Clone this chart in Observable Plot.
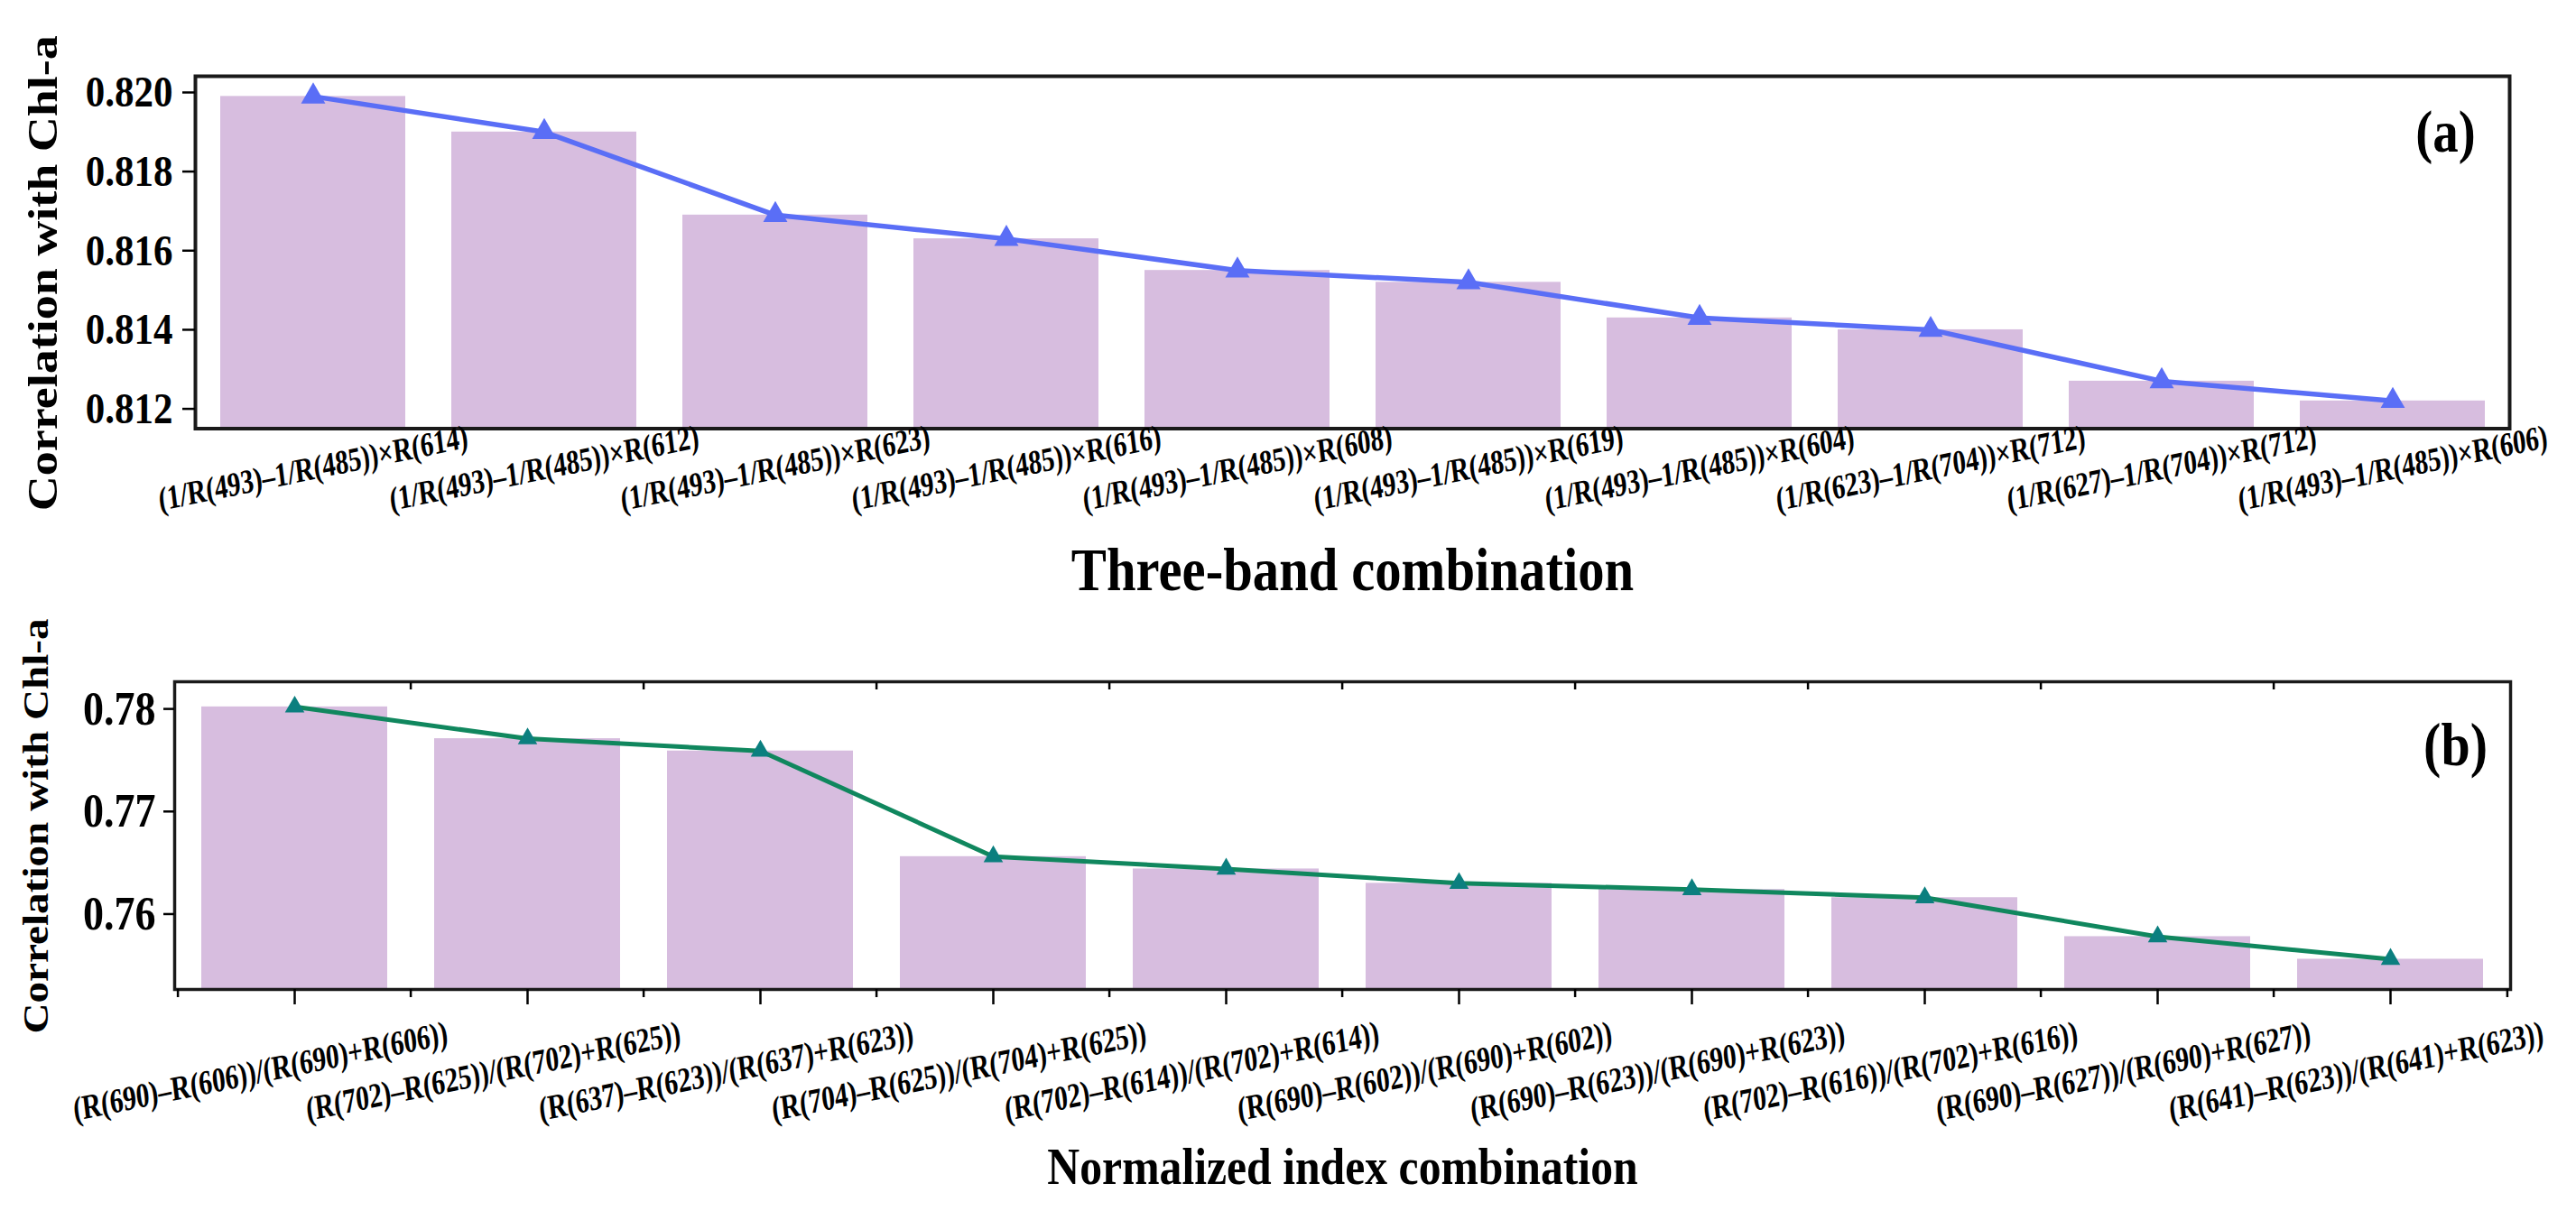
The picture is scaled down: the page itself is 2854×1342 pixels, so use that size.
<!DOCTYPE html>
<html><head><meta charset="utf-8">
<script src="https://cdn.jsdelivr.net/npm/d3@7"></script>
<script src="https://cdn.jsdelivr.net/npm/@observablehq/plot@0.6"></script>
<style>
html,body{margin:0;padding:0;background:#fff;}
#chart svg{display:block;}
</style></head><body><div id="chart"></div>
<script>
const threeBandCombos = [
  "(1/R(493)–1/R(485))×R(614)",
  "(1/R(493)–1/R(485))×R(612)",
  "(1/R(493)–1/R(485))×R(623)",
  "(1/R(493)–1/R(485))×R(616)",
  "(1/R(493)–1/R(485))×R(608)",
  "(1/R(493)–1/R(485))×R(619)",
  "(1/R(493)–1/R(485))×R(604)",
  "(1/R(623)–1/R(704))×R(712)",
  "(1/R(627)–1/R(704))×R(712)",
  "(1/R(493)–1/R(485))×R(606)"
];
const threeBandCorr = [0.8199, 0.8190, 0.8169, 0.8163, 0.8155, 0.8152, 0.8143, 0.8140, 0.8127, 0.8122];
const normIndexCombos = [
  "(R(690)–R(606))/(R(690)+R(606))",
  "(R(702)–R(625))/(R(702)+R(625))",
  "(R(637)–R(623))/(R(637)+R(623))",
  "(R(704)–R(625))/(R(704)+R(625))",
  "(R(702)–R(614))/(R(702)+R(614))",
  "(R(690)–R(602))/(R(690)+R(602))",
  "(R(690)–R(623))/(R(690)+R(623))",
  "(R(702)–R(616))/(R(702)+R(616))",
  "(R(690)–R(627))/(R(690)+R(627))",
  "(R(641)–R(623))/(R(641)+R(623))"
];
const normIndexCorr = [0.7802, 0.7771, 0.7759, 0.7656, 0.7644, 0.7630, 0.7624, 0.7616, 0.7578, 0.7556];
const threeBandTicks = [0.812, 0.814, 0.816, 0.818, 0.820];
const normIndexTicks = [0.76, 0.77, 0.78];
const panelLabels = ["(a)", "(b)"];
const yTitle = "Correlation with Chl-a";
const xTitles = ["Three-band combination", "Normalized index combination"];

const W = 2854;
const FONT = "'Liberation Serif', 'Times New Roman', serif";
const STYLE = `font-family: ${FONT}; font-weight: bold; color: black; background: white; overflow: visible;`;
const barColor = "#d7bddf";

function stretchText(t, s) {
  const tr = t.getAttribute("transform") || "";
  const m = tr.match(/translate\(\s*([-\d.e+]+)[\s,]+([-\d.e+]+)\s*\)/);
  if (m) {
    const rest = tr.replace(m[0], "");
    t.setAttribute("transform", `translate(${m[1]},${m[2]}) scale(1,${s})${rest}`);
  }
}
function stretch(svg, s, sTick) {
  svg.querySelectorAll("text").forEach(t => {
    const g = t.closest('g[aria-label="x-axis tick label"]');
    stretchText(t, g ? sTick : s);
  });
}
function setTickFont(svg, px) {
  svg.querySelectorAll('g[aria-label="x-axis tick label"]').forEach(g => {
    if (g.textContent.trim().length) {
      g.setAttribute("font-size", px);
      g.querySelectorAll("text").forEach(t => t.setAttribute("font-size", px));
    }
  });
}

const blank = () => "";

// Panel (a)
const dataA = threeBandCombos.map((name, i) => ({name, value: threeBandCorr[i]}));
const domA = [0.8115, 0.82041];
const plotA = Plot.plot({
  width: W, height: 700,
  marginLeft: 216, marginRight: 74, marginTop: 84, marginBottom: 225.5,
  style: STYLE,
  x: {type: "band", domain: threeBandCombos, paddingInner: 0.2, paddingOuter: 0.1, label: null},
  y: {domain: domA, label: null},
  marks: [
    Plot.barY(dataA, {x: "name", y1: domA[0], y2: "value", fill: barColor}),
    Plot.line(dataA, {x: "name", y: "value", stroke: "#5a6ef6", strokeWidth: 5.5}),
    Plot.dot(dataA, {x: "name", y: "value", symbol: "triangle", r: 10, fill: "#5a6ef6"}),
    Plot.frame({stroke: "#1a1a1a", strokeWidth: 4}),
    Plot.axisY({ticks: threeBandTicks, tickFormat: d3.format(".3f"), tickSize: 14, tickPadding: 11, fontSize: 43, strokeWidth: 2.5, label: null}),
    Plot.axisX({tickSize: 0, tickPadding: 44, tickRotate: -9, textAnchor: "middle", lineAnchor: "middle", fontSize: 29, label: null}),
    Plot.text([yTitle], {frameAnchor: "left", dx: -169, dy: 23, rotate: -90, fontSize: 47, textAnchor: "middle", lineAnchor: "middle"}),
    Plot.text([xTitles[0]], {frameAnchor: "bottom", dy: 157.5, fontSize: 58.7, lineAnchor: "middle"}),
    Plot.text([panelLabels[0]], {frameAnchor: "top-right", dx: -71, dy: 62.5, fontSize: 57, textAnchor: "middle", lineAnchor: "middle"})
  ]
});
setTickFont(plotA, 29);
stretch(plotA, 1.15, 1.3);

// Panel (b)
const dataB = normIndexCombos.map((name, i) => ({name, value: normIndexCorr[i]}));
const domB = [0.75265, 0.78265];
const mlB = 193, mrB = 73;
const stepB = (W - mlB - mrB) / normIndexCombos.length;
const tickStyle = {tickFormat: blank, strokeWidth: 2.5, label: null};
const plotB = Plot.plot({
  width: W, height: 642,
  marginLeft: mlB, marginRight: mrB, marginTop: 55, marginBottom: 246,
  style: STYLE,
  x: {type: "band", domain: normIndexCombos, paddingInner: 0.2, paddingOuter: 0.1, label: null},
  y: {domain: domB, label: null},
  marks: [
    Plot.barY(dataB, {x: "name", y1: domB[0], y2: "value", fill: barColor}),
    Plot.line(dataB, {x: "name", y: "value", stroke: "#10875e", strokeWidth: 5}),
    Plot.dot(dataB, {x: "name", y: "value", symbol: "triangle", r: 8, fill: "#0b7f7f"}),
    Plot.frame({stroke: "#1a1a1a", strokeWidth: 3.5}),
    Plot.axisY({ticks: normIndexTicks, tickFormat: d3.format(".2f"), tickSize: 12, tickPadding: 9, fontSize: 46, strokeWidth: 2.5, label: null}),
    Plot.axisX({tickSize: 17, ...tickStyle}),
    Plot.axisX({ticks: normIndexCombos, tickSize: 9, dx: -stepB / 2, ...tickStyle}),
    Plot.axisX({ticks: normIndexCombos.slice(-1), tickSize: 9, dx: stepB / 2, ...tickStyle}),
    Plot.axisX({anchor: "top", ticks: normIndexCombos.slice(1), tickSize: -8, dx: -stepB / 2, ...tickStyle}),
    Plot.axisX({tickSize: 0, tickPadding: 91, tickRotate: -9, dx: -38, textAnchor: "middle", lineAnchor: "middle", fontSize: 29.5, label: null}),
    Plot.text([yTitle], {frameAnchor: "left", dx: -154, dy: -10.5, rotate: -90, fontSize: 41, textAnchor: "middle", lineAnchor: "middle"}),
    Plot.text([xTitles[1]], {frameAnchor: "bottom", dy: 197.5, fontSize: 49.7, lineAnchor: "middle"}),
    Plot.text([panelLabels[1]], {frameAnchor: "top-right", dx: -61, dy: 71, fontSize: 58, textAnchor: "middle", lineAnchor: "middle"})
  ]
});
setTickFont(plotB, 29.5);
stretch(plotB, 1.15, 1.3);

const root = document.getElementById("chart");
root.appendChild(plotA);
root.appendChild(plotB);
</script></body></html>
